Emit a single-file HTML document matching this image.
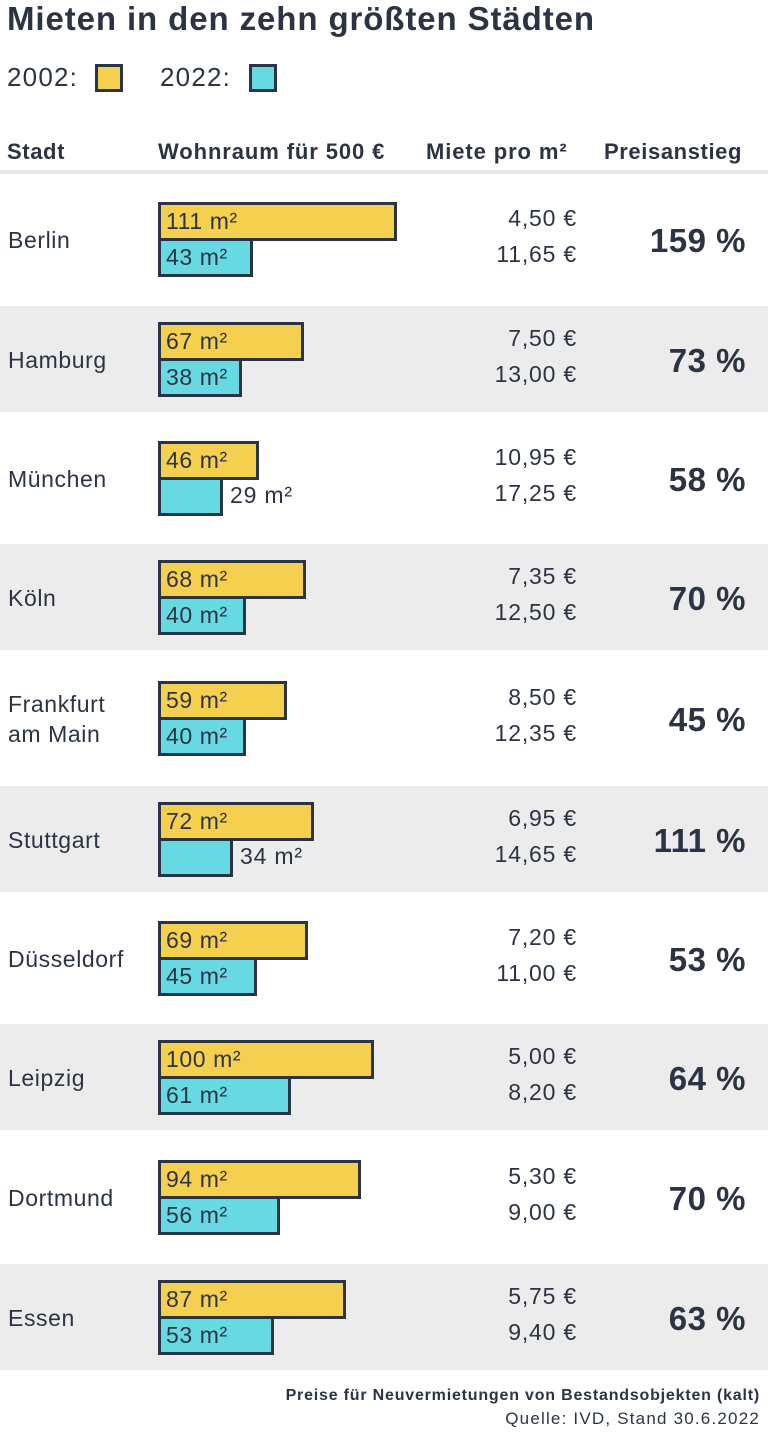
<!DOCTYPE html>
<html><head><meta charset="utf-8"><style>
body{margin:0;width:768px;height:1436px;background:#fff;font-family:"Liberation Sans",sans-serif;color:#2b3444;position:relative;overflow:hidden}
.a{position:absolute;white-space:nowrap}
.row{position:absolute;left:0;width:768px}
.g{background:#ececec}
.bar{position:absolute;left:158px;box-sizing:border-box;border:3px solid #2b3444;height:39px;font-size:23px;letter-spacing:0.6px;line-height:32px;padding-left:5px}
.y{background:#f5d04e}
.c{background:#66d9e3}
.p{font-size:23px;letter-spacing:0.8px}
</style></head><body>
<div class="a" style="left:7px;top:0px;font-size:33px;font-weight:bold;letter-spacing:0.9px">Mieten in den zehn größten Städten</div>
<div class="a" style="left:7px;top:62px;font-size:26px;letter-spacing:1.2px">2002:</div>
<div class="a" style="left:95px;top:64px;width:22px;height:22px;border:3px solid #2b3444;background:#f5d04e"></div>
<div class="a" style="left:160px;top:62px;font-size:26px;letter-spacing:1.2px">2022:</div>
<div class="a" style="left:249px;top:64px;width:22px;height:22px;border:3px solid #2b3444;background:#66d9e3"></div>
<div class="a" style="left:7px;top:139px;font-size:22px;font-weight:bold;letter-spacing:0.6px">Stadt</div>
<div class="a" style="left:158px;top:139px;font-size:22px;font-weight:bold;letter-spacing:0.9px">Wohnraum für 500 €</div>
<div class="a" style="left:426px;top:139px;font-size:22px;font-weight:bold;letter-spacing:0.9px">Miete pro m²</div>
<div class="a" style="left:604px;top:139px;font-size:22px;font-weight:bold;letter-spacing:0.6px">Preisanstieg</div>
<div class="a" style="left:0;top:170px;width:768px;height:4px;background:#e8e8e8"></div>
<div id="rows"></div>
<div class="a" style="right:8px;top:1387px;font-size:16px;font-weight:bold;letter-spacing:0.8px">Preise für Neuvermietungen von Bestandsobjekten (kalt)</div>
<div class="a" style="right:8px;top:1409px;font-size:17px;letter-spacing:1.2px">Quelle: IVD, Stand 30.6.2022</div>
<script>
var d=[["Berlin",172,134,111,43,"4,50 €","11,65 €","159 %"],
["Hamburg",306,106,67,38,"7,50 €","13,00 €","73 %"],
["München",412,132,46,29,"10,95 €","17,25 €","58 %",1],
["Köln",544,106,68,40,"7,35 €","12,50 €","70 %"],
["Frankfurt<br>am Main",650,136,59,40,"8,50 €","12,35 €","45 %"],
["Stuttgart",786,106,72,34,"6,95 €","14,65 €","111 %",1],
["Düsseldorf",892,132,69,45,"7,20 €","11,00 €","53 %"],
["Leipzig",1024,106,100,61,"5,00 €","8,20 €","64 %"],
["Dortmund",1130,134,94,56,"5,30 €","9,00 €","70 %"],
["Essen",1264,106,87,53,"5,75 €","9,40 €","63 %"]];
var h="";
d.forEach(function(r,i){
var t=r[1],H=r[2],m=t+H/2;
var w1=Math.round(2.13*r[3]+3),w2=Math.round(2.13*r[4]+3);
if(i%2)h+='<div class="row g" style="top:'+t+'px;height:'+H+'px"></div>';
var nl=r[0].indexOf("<br>")>=0;
h+='<div class="a" style="left:8px;top:'+(nl?m-29:m-14)+'px;font-size:23px;letter-spacing:0.6px;line-height:30px">'+r[0]+'</div>';
h+='<div class="bar y" style="top:'+(m-37)+'px;width:'+w1+'px">'+r[3]+' m²</div>';
h+='<div class="bar c" style="top:'+(m-1)+'px;width:'+w2+'px">'+(r[8]?'':r[4]+' m²')+'</div>';
if(r[8])h+='<div class="a p" style="left:'+(158+w2+7)+'px;top:'+(m+4)+'px">'+r[4]+' m²</div>';
h+='<div class="a p" style="right:191px;top:'+(m-34)+'px;text-align:right">'+r[5]+'</div>';
h+='<div class="a p" style="right:191px;top:'+(m+2)+'px;text-align:right">'+r[6]+'</div>';
h+='<div class="a" style="right:22px;top:'+(m-17)+'px;font-size:33px;font-weight:bold;letter-spacing:0.5px">'+r[7]+'</div>';
});
document.getElementById("rows").innerHTML=h;
</script>
</body></html>
